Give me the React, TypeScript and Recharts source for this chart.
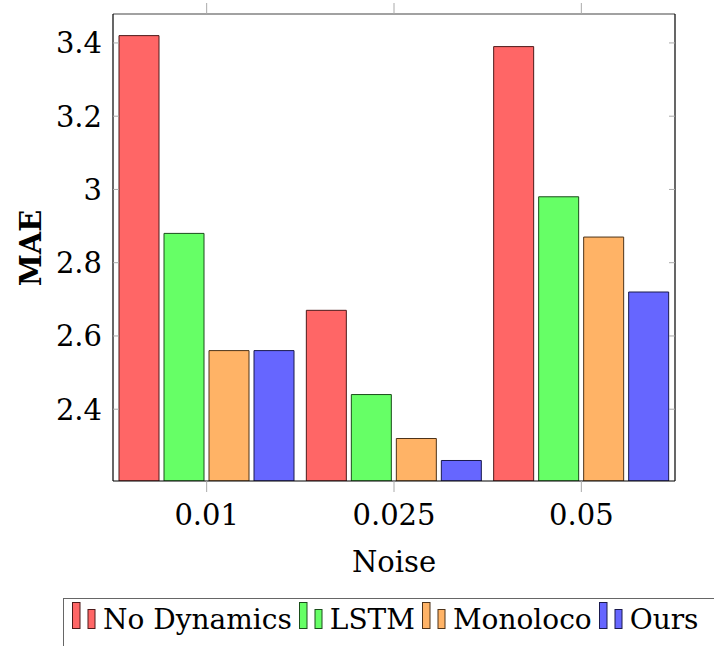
import { BarChart, Bar, XAxis, YAxis, Legend } from "recharts"

const noiseLevels = ["0.01", "0.025", "0.05"]
const noDynamics = [3.42, 2.67, 3.39]
const lstm = [2.88, 2.44, 2.98]
const monoloco = [2.56, 2.32, 2.87]
const ours = [2.56, 2.26, 2.72]
const maeTicks = [2.4, 2.6, 2.8, 3, 3.2, 3.4]
const maeDomain: [number, number] = [2.204, 3.479]

const SERIES = [
  { key: "noDynamics", name: "No Dynamics", fill: "#ff6666", stroke: "#4d1a1a" },
  { key: "lstm", name: "LSTM", fill: "#66ff66", stroke: "#1a4d1a" },
  { key: "monoloco", name: "Monoloco", fill: "#ffb366", stroke: "#4d3319" },
  { key: "ours", name: "Ours", fill: "#6666ff", stroke: "#1a1a4d" },
]

const data = noiseLevels.map((noise, i) => ({
  noise,
  noDynamics: noDynamics[i],
  lstm: lstm[i],
  monoloco: monoloco[i],
  ours: ours[i],
}))

const W = 714
const H = 646
const MARGIN = { top: 13, right: 39, bottom: 0, left: 0 }
const Y_AXIS_W = 113
const FONT = "DejaVu Serif"
const FS = 29
const TICK = "#aaa"

function MaeTick({ x, y, payload }: any) {
  return (
    <g>
      <line x1={Y_AXIS_W} x2={Y_AXIS_W + 6} y1={y} y2={y} stroke={TICK} />
      <text x={x} y={y} dy="0.36em" textAnchor="end" fontFamily={FONT} fontSize={FS} fill="#000">
        {String(payload.value)}
      </text>
    </g>
  )
}

function NoiseTick({ x, y, payload }: any) {
  return (
    <text x={x} y={y} dy="0.73em" textAnchor="middle" fontFamily={FONT} fontSize={FS} fill="#000">
      {payload.value}
    </text>
  )
}

// tick marks only, no label
function BlankTick() {
  return <g />
}

function MaeLabel() {
  const cx = 41
  const cy = 248
  return (
    <text
      x={cx} y={cy} transform={`rotate(-90 ${cx} ${cy})`}
      textAnchor="middle" fontFamily={FONT} fontSize={FS} fontWeight="bold" fill="#000"
    >
      MAE
    </text>
  )
}

function LegendBox() {
  return (
    <div
      style={{
        display: "flex", alignItems: "baseline", whiteSpace: "nowrap",
        borderTop: "1.5px solid #666", borderLeft: "1.5px solid #666",
        padding: "3px 0 0 8px", height: 60, boxSizing: "border-box",
        fontFamily: FONT, fontSize: 28, lineHeight: "32px", color: "#000",
      }}
    >
      {SERIES.map((s) => (
        <span key={s.key} style={{ display: "inline-flex", alignItems: "baseline", marginRight: 7 }}>
          <svg width={24} height={27} style={{ marginRight: 7 }}>
            <rect x={0.5} y={0.5} width={7.5} height={26} fill={s.fill} stroke={s.stroke} />
            <rect x={16} y={7.5} width={7} height={19} fill={s.fill} stroke={s.stroke} />
          </svg>
          <span>{s.name}</span>
        </span>
      ))}
    </div>
  )
}

export default function App() {
  return (
    <div style={{ position: "absolute", left: 0, top: 0, width: W, height: H, overflow: "hidden", background: "#fff" }}>
      <BarChart width={W} height={H} data={data} margin={MARGIN} barSize={40} barGap={5}>
        <XAxis
          xAxisId="b" dataKey="noise" height={H - 481 - MARGIN.bottom}
          axisLine={{ stroke: "#000", strokeWidth: 1.2 }}
          tickLine={{ stroke: TICK }} tickSize={11} tickMargin={12}
          tick={<NoiseTick />}
          label={{ value: "Noise", position: "insideBottom", offset: 74, fontFamily: FONT, fontSize: FS, fill: "#000" }}
        />
        <XAxis
          xAxisId="t" dataKey="noise" orientation="top" height={1}
          axisLine={{ stroke: "#444", strokeWidth: 1.2 }}
          tickLine={{ stroke: TICK }} tickSize={11} tick={<BlankTick />}
        />
        <YAxis
          yAxisId="l" width={Y_AXIS_W} domain={maeDomain} ticks={maeTicks} type="number"
          allowDataOverflow
          axisLine={{ stroke: "#000", strokeWidth: 1.2 }}
          tickLine={false} tickSize={0} tickMargin={11}
          tick={<MaeTick />}
          label={<MaeLabel />}
        />
        <YAxis
          yAxisId="r" orientation="right" mirror width={1} domain={maeDomain} ticks={maeTicks} type="number"
          allowDataOverflow
          axisLine={{ stroke: "#000", strokeWidth: 1.2 }}
          tickLine={{ stroke: TICK }} tickSize={6} tick={<BlankTick />}
        />
        {SERIES.map((s) => (
          <Bar
            key={s.key} dataKey={s.key} name={s.name} xAxisId="b" yAxisId="l"
            fill={s.fill} stroke={s.stroke} strokeWidth={1}
            isAnimationActive={false}
          />
        ))}
        <Legend
          layout="horizontal" verticalAlign="middle" align="center"
          wrapperStyle={{ top: 598, left: 63, width: 700, height: 60 }}
          content={<LegendBox />}
        />
      </BarChart>
    </div>
  )
}
